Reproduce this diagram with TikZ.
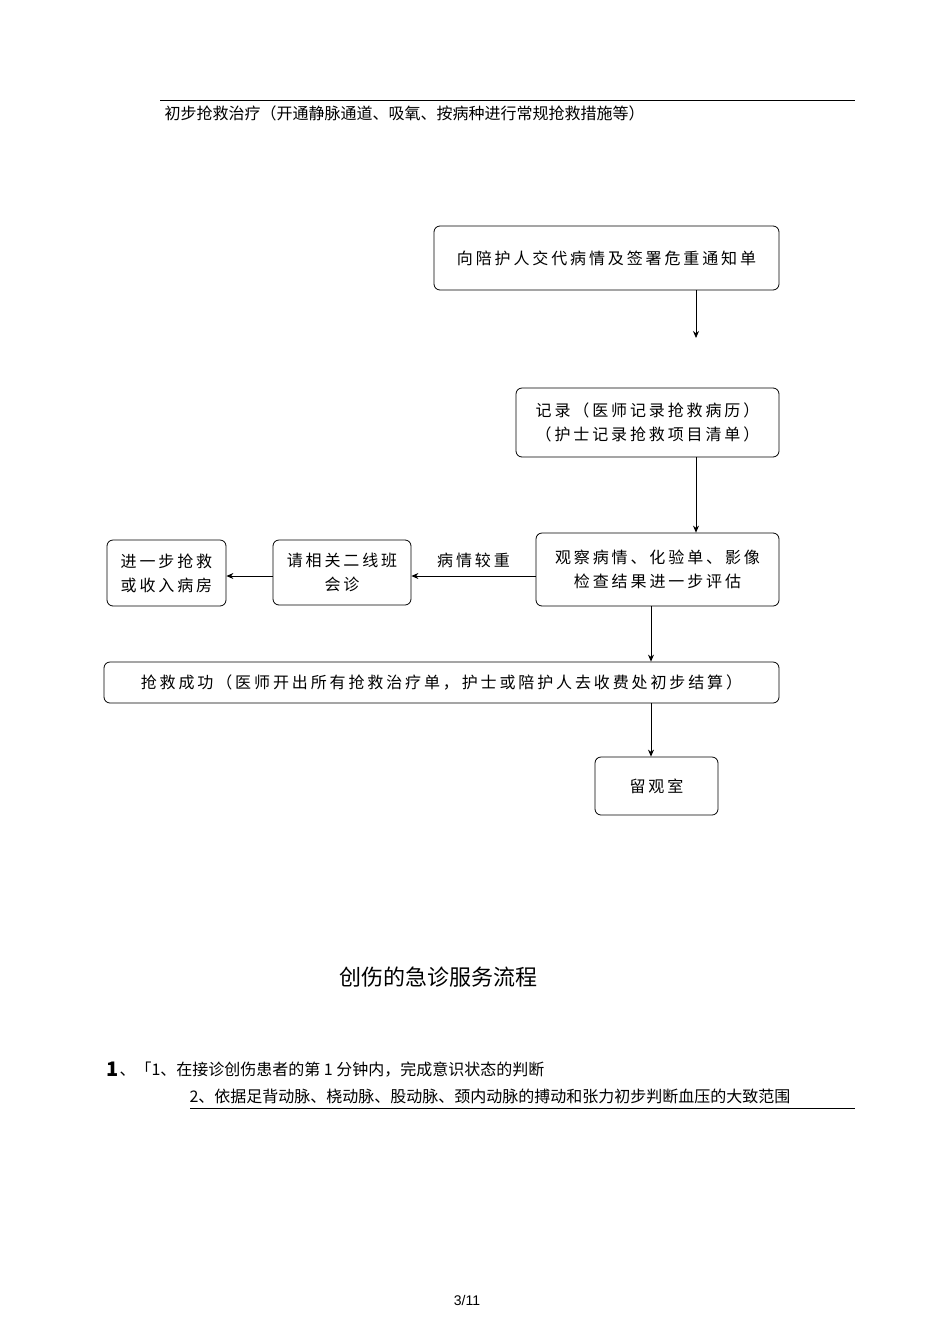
\documentclass[tikz,border=0pt]{standalone}
\usepackage{fontspec}
\setmainfont{Noto Sans CJK SC}
\newfontfamily\spaced[LetterSpace=18]{Noto Sans CJK SC}
\newfontfamily\pagefont{Liberation Sans}
\usetikzlibrary{arrows.meta}
\begin{document}
\begin{tikzpicture}[x=1pt,y=-1pt,
 bx/.style={draw,thick,rounded corners=6pt,inner sep=0pt},
 ar/.style={thick,-{Stealth[length=7pt,width=6pt]}},
 tx/.style={font=\spaced\fontsize{16}{24}\selectfont,align=center}]
\useasboundingbox (0,0) rectangle (950,1344);
\draw (160,100) -- (855,100);
\node[anchor=west,font=\fontsize{16}{18}\selectfont] (t0) at (161,113) {初步抢救治疗（开通静脉通道、吸氧、按病种进行常规抢救措施等）};
\node[bx,minimum width=345pt,minimum height=64pt] (b1) at (606.5,258) {};
\node[tx] at (b1) {向陪护人交代病情及签署危重通知单};
\coordinate (c1) at (696,338);
\draw[ar] (696,290) -- (c1);
\node[bx,minimum width=263pt,minimum height=69pt] (b2) at (647.5,422.5) {};
\node[tx] at (b2) {记录（医师记录抢救病历）\\（护士记录抢救项目清单）};
\node[bx,minimum width=243pt,minimum height=73pt] (b3) at (657.5,569.5) {};
\node[tx] at (b3) {观察病情、化验单、影像\\检查结果进一步评估};
\draw[ar] (b2.south -| 696,0) -- (b3.north -| 696,0);
\node[bx,minimum width=138pt,minimum height=65pt] (b4) at (342,572.5) {};
\node[tx] at (b4) {请相关二线班\\会诊};
\node[bx,minimum width=119pt,minimum height=66pt] (b5) at (166.5,573) {};
\node[tx] at (b5) {进一步抢救\\或收入病房};
\draw[ar] (b3.west |- 0,576) -- (b4.east |- 0,576) node[midway,above=4pt,tx] (l1) {病情较重};
\draw[ar] (b4.west |- 0,576) -- (b5.east |- 0,576);
\node[bx,minimum width=675pt,minimum height=41pt] (b6) at (441.5,682.5) {};
\node[tx] at (b6) {抢救成功（医师开出所有抢救治疗单，护士或陪护人去收费处初步结算）};
\draw[ar] (b3.south -| 651,0) -- (b6.north -| 651,0);
\node[bx,minimum width=123pt,minimum height=58pt] (b7) at (656.5,786) {};
\node[tx] at (b7) {留观室};
\draw[ar] (b6.south -| 651,0) -- (b7.north -| 651,0);
\node[font=\fontsize{22}{24}\selectfont] (title) at (438,977) {创伤的急诊服务流程};
\node[anchor=west,font=\fontsize{20}{22}\selectfont\bfseries] (n1) at (103,1069) {1};
\node[anchor=west,font=\fontsize{16}{18}\selectfont] (r1) at (116,1070) {、「1、在接诊创伤患者的第 1 分钟内，完成意识状态的判断};
\node[anchor=west,font=\fontsize{16}{18}\selectfont] (r2) at (186,1096) {2、依据足背动脉、桡动脉、股动脉、颈内动脉的搏动和张力初步判断血压的大致范围};
\draw (190,1108) -- (855,1108);
\node[font=\pagefont\fontsize{14}{16}\selectfont] (pg) at (467,1300) {3/11};
\end{tikzpicture}
\end{document}
